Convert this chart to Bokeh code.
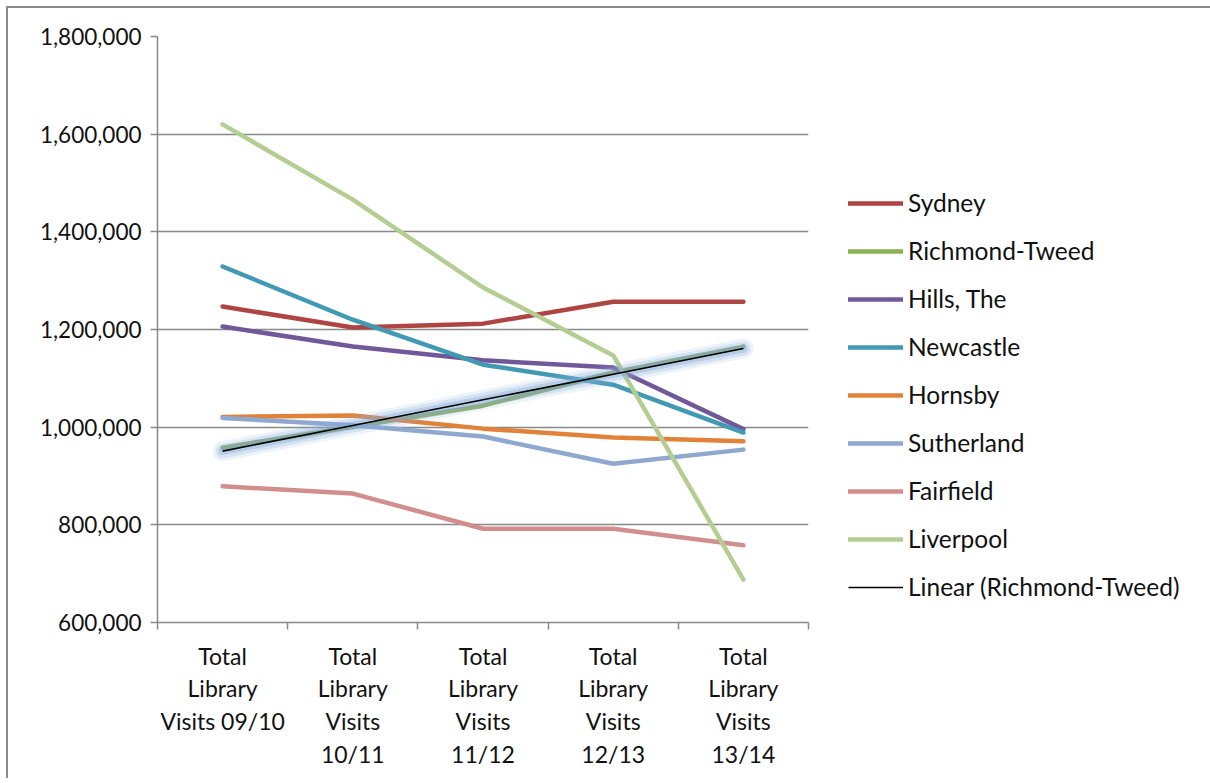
import numpy as np
from bokeh.plotting import figure
from bokeh.models import (Range1d, FixedTicker, NumeralTickFormatter, Legend, LegendItem)
from bokeh.embed import file_html
from bokeh.resources import INLINE

categories = ["Total\nLibrary\nVisits 09/10", "Total\nLibrary\nVisits\n10/11",
              "Total\nLibrary\nVisits\n11/12", "Total\nLibrary\nVisits\n12/13",
              "Total\nLibrary\nVisits\n13/14"]
sydney = [1247000, 1204000, 1212000, 1257000, 1257000]
richmond_tweed = [958000, 1001000, 1044000, 1112000, 1165000]
hills = [1206000, 1165000, 1137000, 1122000, 996000]
newcastle = [1329000, 1220000, 1128000, 1087000, 989000]
hornsby = [1021000, 1024000, 997000, 979000, 971000]
sutherland = [1019000, 1004000, 981000, 925000, 954000]
fairfield = [879000, 864000, 792000, 792000, 758000]
liverpool = [1620000, 1466000, 1286000, 1147000, 688000]

series = [
    ("Sydney", sydney, "#AE4542"),
    ("Richmond-Tweed", richmond_tweed, "#8EB153"),
    ("Hills, The", hills, "#71589A"),
    ("Newcastle", newcastle, "#4299B4"),
    ("Hornsby", hornsby, "#E0823A"),
    ("Sutherland", sutherland, "#8EA8D0"),
    ("Fairfield", fairfield, "#D28E8C"),
    ("Liverpool", liverpool, "#B4CD92"),
]

FONT = "Lato"
GRAY = "#898989"

xs = [i + 0.5 for i in range(len(categories))]

p = figure(width=1204, height=777, output_backend="svg", toolbar_location=None,
           x_range=Range1d(0, 5), y_range=Range1d(600000, 1800000),
           frame_width=651, frame_height=586,
           min_border_left=149, min_border_top=28, min_border_right=398, min_border_bottom=156)
p.outline_line_color = None
p.background_fill_color = "white"
p.border_fill_color = "white"

# y axis
p.yaxis.ticker = FixedTicker(ticks=[600000 + 200000 * i for i in range(7)])
p.yaxis.formatter = NumeralTickFormatter(format="0,0")
p.yaxis.major_tick_out = 7
p.yaxis.major_tick_in = 0
p.yaxis.minor_tick_out = 0
p.yaxis.minor_tick_in = 0
p.yaxis.axis_line_color = GRAY
p.yaxis.axis_line_width = 1.5
p.yaxis.major_tick_line_color = GRAY
p.yaxis.major_tick_line_width = 1.5
p.yaxis.major_label_text_font = FONT
p.yaxis.major_label_text_font_size = "22.5px"
p.yaxis.major_label_text_color = "#111111"
p.yaxis.major_label_standoff = 9

# x axis
p.xaxis.ticker = FixedTicker(ticks=xs, minor_ticks=[0, 1, 2, 3, 4, 5])
p.xaxis.major_label_overrides = {x: c for x, c in zip(xs, categories)}
p.xaxis.major_tick_out = 0
p.xaxis.major_tick_in = 0
p.xaxis.minor_tick_out = 7
p.xaxis.minor_tick_in = 0
p.xaxis.minor_tick_line_color = GRAY
p.xaxis.minor_tick_line_width = 1.5
p.xaxis.axis_line_color = GRAY
p.xaxis.axis_line_width = 1.5
p.xaxis.major_label_text_font = FONT
p.xaxis.major_label_text_font_size = "23px"
p.xaxis.major_label_text_color = "#111111"
p.xaxis.major_label_text_line_height = 1.17
p.xaxis.major_label_standoff = 12

p.xgrid.grid_line_color = None
p.ygrid.grid_line_color = GRAY
p.ygrid.grid_line_width = 1.5

items = []
for name, vals, col in series:
    r = p.line(xs, vals, line_color=col, line_width=4.5, line_cap="round", line_join="round")
    items.append(LegendItem(label=name, renderers=[r]))

# linear trend for Richmond-Tweed
idx = np.arange(1, len(richmond_tweed) + 1)
slope, intercept = np.polyfit(idx, richmond_tweed, 1)
trend = [slope * i + intercept for i in idx]
p.line(xs, trend, line_color="#8DB0DD", line_width=20, line_alpha=0.15, line_cap="round")
p.line(xs, trend, line_color="#8DB0DD", line_width=14, line_alpha=0.25, line_cap="round")
p.line(xs, trend, line_color="#7FA3D4", line_width=8, line_alpha=0.35, line_cap="round")
tr = p.line(xs, trend, line_color="black", line_width=1.6)
items.append(LegendItem(label="Linear (Richmond-Tweed)", renderers=[tr]))

legend = Legend(items=items, location=(40, 21))
legend.border_line_color = None
legend.background_fill_alpha = 0
legend.padding = 0
legend.margin = 0
legend.spacing = 19
legend.glyph_width = 55
legend.glyph_height = 24
legend.label_height = 24
legend.label_standoff = 5
legend.label_text_font = FONT
legend.label_text_font_size = "24.5px"
legend.label_text_color = "#111111"
p.add_layout(legend, "right")

p.styles = {"border-left": "2px solid #898989", "border-top": "2px solid #898989"}
p.margin = (6, 0, 0, 6)

open("out.html", "w").write(file_html(p, INLINE))
